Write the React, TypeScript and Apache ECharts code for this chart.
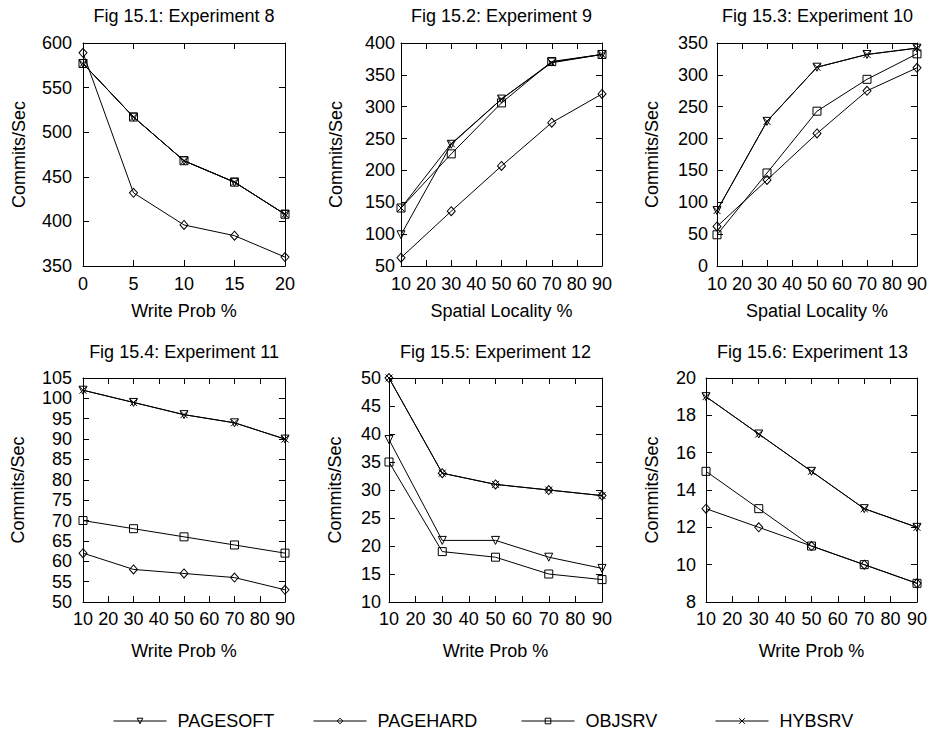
import React, { useEffect, useRef } from "react";
import * as echarts from "echarts";

// ---------- data ----------
const SERIES_NAMES = ["PAGESOFT", "PAGEHARD", "OBJSRV", "HYBSRV"];

const X_WRITE_EXP8 = [0, 5, 10, 15, 20];
const X_PERCENT = [10, 30, 50, 70, 90];

const TITLES = [
  "Fig 15.1: Experiment 8",
  "Fig 15.2: Experiment 9",
  "Fig 15.3: Experiment 10",
  "Fig 15.4: Experiment 11",
  "Fig 15.5: Experiment 12",
  "Fig 15.6: Experiment 13",
];
const X_NAMES = [
  "Write Prob %",
  "Spatial Locality %",
  "Spatial Locality %",
  "Write Prob %",
  "Write Prob %",
  "Write Prob %",
];
const Y_NAME = "Commits/Sec";

// axis ranges [min, max, interval]
const X_RANGES = [
  [0, 20, 5],
  [10, 90, 10],
  [10, 90, 10],
  [10, 90, 10],
  [10, 90, 10],
  [10, 90, 10],
];
const Y_RANGES = [
  [350, 600, 50],
  [50, 400, 50],
  [0, 350, 50],
  [50, 105, 5],
  [10, 50, 5],
  [8, 20, 2],
];

// Fig 15.1 Experiment 8
const exp8PageSoft = [577, 517, 468, 444, 408];
const exp8PageHard = [589, 432, 396, 384, 360];
const exp8ObjSrv = [577, 517, 468, 444, 408];
const exp8HybSrv = [577, 517, 468, 444, 408];

// Fig 15.2 Experiment 9
const exp9PageSoft = [99, 241, 312, 370, 382];
const exp9PageHard = [63, 136, 207, 275, 320];
const exp9ObjSrv = [141, 226, 306, 371, 382];
const exp9HybSrv = [141, 242, 312, 369, 382];

// Fig 15.3 Experiment 10
const exp10PageSoft = [87, 227, 312, 332, 342];
const exp10PageHard = [62, 135, 208, 275, 311];
const exp10ObjSrv = [49, 146, 243, 293, 333];
const exp10HybSrv = [87, 227, 312, 332, 342];

// Fig 15.4 Experiment 11
const exp11PageSoft = [102, 99, 96, 94, 90];
const exp11PageHard = [62, 58, 57, 56, 53];
const exp11ObjSrv = [70, 68, 66, 64, 62];
const exp11HybSrv = [102, 99, 96, 94, 90];

// Fig 15.5 Experiment 12
const exp12PageSoft = [39, 21, 21, 18, 16];
const exp12PageHard = [50, 33, 31, 30, 29];
const exp12ObjSrv = [35, 19, 18, 15, 14];
const exp12HybSrv = [50, 33, 31, 30, 29];

// Fig 15.6 Experiment 13
const exp13PageSoft = [19, 17, 15, 13, 12];
const exp13PageHard = [13, 12, 11, 10, 9];
const exp13ObjSrv = [15, 13, 11, 10, 9];
const exp13HybSrv = [19, 17, 15, 13, 12];

const PANEL_X = [X_WRITE_EXP8, X_PERCENT, X_PERCENT, X_PERCENT, X_PERCENT, X_PERCENT];
const PANEL_VALUES = [
  [exp8PageSoft, exp8PageHard, exp8ObjSrv, exp8HybSrv],
  [exp9PageSoft, exp9PageHard, exp9ObjSrv, exp9HybSrv],
  [exp10PageSoft, exp10PageHard, exp10ObjSrv, exp10HybSrv],
  [exp11PageSoft, exp11PageHard, exp11ObjSrv, exp11HybSrv],
  [exp12PageSoft, exp12PageHard, exp12ObjSrv, exp12HybSrv],
  [exp13PageSoft, exp13PageHard, exp13ObjSrv, exp13HybSrv],
];

// ---------- layout & style ----------
const FONT = "'Liberation Sans', Arial, Helvetica, sans-serif";
const FS = 18;

const LAYOUT = [
  { left: 83, top: 43, width: 202, height: 223, titleY: 16, xNameGap: 36, yNameGap: 55, yLabelMargin: 11, xLabelMargin: 9 },
  { left: 401, top: 43, width: 201, height: 223, titleY: 16, xNameGap: 36, yNameGap: 56, yLabelMargin: 6, xLabelMargin: 9 },
  { left: 717, top: 43, width: 201, height: 223, titleY: 16, xNameGap: 36, yNameGap: 56, yLabelMargin: 9, xLabelMargin: 9 },
  { left: 83, top: 378, width: 202, height: 224, titleY: 352, xNameGap: 40, yNameGap: 56, yLabelMargin: 11, xLabelMargin: 8 },
  { left: 389, top: 378, width: 213, height: 224, titleY: 352, xNameGap: 40, yNameGap: 45, yLabelMargin: 8, xLabelMargin: 8 },
  { left: 706, top: 378, width: 213, height: 224, titleY: 352, xNameGap: 40, yNameGap: 45, yLabelMargin: 10, xLabelMargin: 8 },
];

const LEGEND_LEFT = [113, 313, 521, 715];
const LEGEND_TOP = 712;

const SYMBOLS: any[] = [
  { symbol: "triangle", symbolRotate: 180, symbolSize: 8 },
  { symbol: "diamond", symbolRotate: 0, symbolSize: [8, 9] },
  { symbol: "rect", symbolRotate: 0, symbolSize: 8 },
  { symbol: "path://M0,0L10,10M0,10L10,0", symbolRotate: 0, symbolSize: 7 },
];

function buildOption() {
  const grid: any[] = [];
  const xAxis: any[] = [];
  const yAxis: any[] = [];
  const series: any[] = [];
  const graphic: any[] = [];

  const axisLine = { show: true, onZero: false, lineStyle: { color: "#000", width: 1 } };
  const axisTick = { show: true, inside: true, length: 6, lineStyle: { color: "#000", width: 1 } };
  const labelStyle = { color: "#000", fontSize: FS, fontFamily: FONT };

  for (let i = 0; i < 6; i++) {
    const L = LAYOUT[i];
    const [xmin, xmax, xint] = X_RANGES[i];
    const [ymin, ymax, yint] = Y_RANGES[i];
    grid.push({ left: L.left, top: L.top, width: L.width, height: L.height, containLabel: false });

    xAxis.push({
      type: "value",
      gridIndex: i,
      position: "bottom",
      min: xmin,
      max: xmax,
      interval: xint,
      axisLine,
      axisTick,
      splitLine: { show: false },
      axisLabel: { ...labelStyle, margin: L.xLabelMargin },
      name: X_NAMES[i],
      nameLocation: "middle",
      nameGap: L.xNameGap,
      nameTextStyle: { ...labelStyle },
    });
    xAxis.push({
      type: "value",
      gridIndex: i,
      position: "top",
      min: xmin,
      max: xmax,
      interval: xint,
      axisLine,
      axisTick,
      splitLine: { show: false },
      axisLabel: { show: false },
    });
    yAxis.push({
      type: "value",
      gridIndex: i,
      position: "left",
      min: ymin,
      max: ymax,
      interval: yint,
      axisLine,
      axisTick,
      splitLine: { show: false },
      axisLabel: { ...labelStyle, margin: L.yLabelMargin },
      name: Y_NAME,
      nameLocation: "middle",
      nameRotate: 90,
      nameGap: L.yNameGap,
      nameTextStyle: { ...labelStyle },
    });
    yAxis.push({
      type: "value",
      gridIndex: i,
      position: "right",
      min: ymin,
      max: ymax,
      interval: yint,
      axisLine,
      axisTick,
      splitLine: { show: false },
      axisLabel: { show: false },
    });

    const xs = PANEL_X[i];
    PANEL_VALUES[i].forEach((vals, s) => {
      series.push({
        type: "line",
        name: SERIES_NAMES[s],
        xAxisIndex: 2 * i,
        yAxisIndex: 2 * i,
        data: xs.map((x, k) => [x, vals[k]]),
        symbol: SYMBOLS[s].symbol,
        symbolRotate: SYMBOLS[s].symbolRotate,
        symbolSize: SYMBOLS[s].symbolSize,
        showSymbol: true,
        lineStyle: { color: "#000", width: 1 },
        itemStyle: { color: "transparent", borderColor: "#000", borderWidth: 1 },
        emphasis: { disabled: true },
        silent: true,
        z: 2 + s,
      });
    });

    graphic.push({
      type: "text",
      x: L.left + L.width / 2,
      y: L.titleY,
      style: {
        text: TITLES[i],
        fontSize: FS,
        fontFamily: FONT,
        fill: "#000",
        align: "center",
        verticalAlign: "middle",
        textAlign: "center",
        textVerticalAlign: "middle",
      },
    });
  }

  const legend = SERIES_NAMES.map((name, s) => ({
    data: [name],
    left: LEGEND_LEFT[s],
    top: LEGEND_TOP,
    orient: "horizontal",
    itemWidth: 53,
    itemHeight: 7,
    selectedMode: false,
    padding: 0,
    textStyle: { color: "#000", fontSize: FS, fontFamily: FONT, padding: [0, 0, 0, 6] },
    lineStyle: { color: "#000", width: 1 },
    itemStyle: { color: "transparent", borderColor: "#000", borderWidth: 1 },
  }));

  return {
    animation: false,
    backgroundColor: "#fff",
    grid,
    xAxis,
    yAxis,
    series,
    legend,
    graphic,
  };
}

export default function App() {
  const ref = useRef<HTMLDivElement>(null);
  useEffect(() => {
    document.body.style.margin = "0";
    if (!ref.current) return;
    const chart = echarts.init(ref.current, null, { renderer: "svg" });
    chart.setOption(buildOption() as any);
    return () => chart.dispose();
  }, []);
  return <div ref={ref} style={{ width: 930, height: 734, background: "#fff" }} />;
}
